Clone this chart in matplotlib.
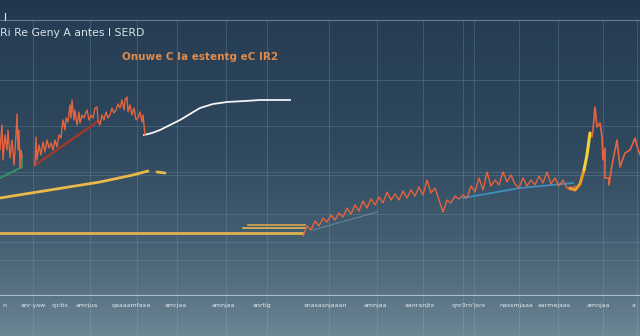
import numpy as np
import matplotlib
matplotlib.use("Agg")
import matplotlib.pyplot as plt
from matplotlib.colors import LinearSegmentedColormap

# ---- data (index level vs. trading day) ----
early_days_a = [0, 2, 3, 5, 7, 8, 10, 12, 14, 16, 17, 18, 19, 20, 21, 22]
early_level_a = [146, 171, 136, 161, 146, 166, 138, 156, 131, 161, 182, 146, 166, 128, 146, 139]

early_days_b = [35, 36, 37, 39, 41, 43, 45, 47, 49, 51, 53, 55, 57, 59, 61, 62, 63, 65, 66, 68,
                70, 71, 72, 74, 75, 77, 79, 80, 82, 84, 86, 87, 89, 91, 93, 95, 97, 98, 100, 102,
                104, 106, 108, 110, 112, 114, 116, 118, 120, 122, 124, 125, 127, 128, 130, 132,
                134, 136, 138, 140, 142, 143, 145]
early_level_b = [131, 159, 136, 151, 141, 154, 144, 156, 148, 153, 146, 156, 149, 161, 158, 168,
                 176, 166, 178, 174, 191, 178, 196, 176, 186, 171, 184, 173, 181, 178, 184, 186,
                 176, 181, 178, 188, 189, 176, 171, 181, 176, 184, 178, 181, 188, 183, 186, 192,
                 188, 196, 186, 196, 199, 184, 191, 181, 188, 176, 178, 184, 174, 181, 161]

green_days = [0, 22, 22]
green_level = [118, 129, 139]

red_trend_days = [35, 97]
red_trend_level = [131, 174]

white_days = [144, 152, 160, 170, 180, 190, 200, 213, 227, 245, 260, 275, 290]
white_level = [161, 163, 166, 171, 176, 182, 188, 192, 194, 195, 196, 196, 196]

yellow_rise_days = [0, 50, 100, 133, 148]
yellow_rise_level = [98, 106, 114, 121, 125]
yellow_dash_days = [157, 165]
yellow_dash_level = [124, 123]

flat_days = [0, 303]
flat_level = [63, 63]
flat_upper_days = [248, 305]
flat_upper_level = [71, 71]
flat_mid_days = [243, 305]
flat_mid_level = [68, 68]

late_days = list(range(303, 576, 4))
late_level = [60, 70, 66, 75, 70, 78, 74, 81, 76, 83,
              79, 88, 82, 91, 85, 95, 88, 97, 91, 99,
              93, 104, 96, 102, 96, 105, 98, 106, 100, 109,
              101, 116, 103, 108, 96, 84, 96, 93, 100, 97,
              101, 98, 110, 104, 118, 106, 124, 110, 116, 111,
              124, 114, 121, 112, 108, 118, 110, 116, 111, 120,
              113, 124, 112, 118, 110, 116, 108, 106, 110]

spike_low_days = [570, 575, 580, 584]
spike_low_level = [108, 106, 112, 126]
spike_high_days = [584, 587, 590]
spike_high_level = [126, 141, 163]

tail_days = [590, 592, 593, 595, 597, 600, 602, 603, 605, 605, 609, 609, 612, 615, 617, 620,
             625, 630, 635, 637, 640]
tail_level = [161, 159, 166, 189, 169, 173, 159, 136, 148, 118, 118, 111, 131, 146, 156, 129,
              143, 146, 158, 150, 141]

blue_days = [463, 520, 573]
blue_level = [98, 108, 113]
faint_days = [313, 377]
faint_level = [66, 84]

grid_days = [33, 90, 137, 177, 226, 267, 329, 377, 423, 463, 474, 519, 558, 603, 637]
grid_levels = [36, 54, 82, 121, 124, 170, 216]

tick_days = [4, 33, 60, 87, 131, 176, 223, 262, 325, 375, 420, 469, 516, 554, 598, 634]
tick_labels = ["n", "anr·yaw", "qictis", "amrjua", "qaaaamfaxa", "amrjaa", "amnjaa",
               "anrtlg", "xnasasnjaaan", "amnjaa", "aanranjtx", "qnr3rn'jsrx",
               "nassmjaaa", "aarmejaas", "amnjaa", "a"]

title_text = "Ri Re Geny A antes l SERD"
subtitle_text = "Onuwe C Ia estentg eC IR2"

# ---- figure ----
fig = plt.figure(figsize=(6.4, 3.36), dpi=100)

bg = fig.add_axes([0, 0, 1, 1])
bg_cmap = LinearSegmentedColormap.from_list(
    "bg", [(0.0, "#20354a"), (0.06, "#263d53"), (0.45, "#30495f"),
           (0.70, "#435d70"), (0.88, "#5a7486"), (1.0, "#6c8694")])
grad = np.linspace(0, 1, 336).reshape(-1, 1)
bg.imshow(grad, cmap=bg_cmap, aspect="auto", extent=[0, 1, 0, 1], origin="upper")
bg.set_axis_off()

ax = fig.add_axes([0, 40 / 336, 1, 276 / 336])
ax.set_facecolor("none")
ax.set_xlim(0, 640)
ax.set_ylim(0, 276)
for s in ax.spines.values():
    s.set_visible(False)

for d in grid_days:
    ax.axvline(d, color="#7f9cb0", lw=0.6, alpha=0.35, zorder=0)
    ax.plot([d, d], [-40, 0], color="#9ab2c0", lw=0.6, alpha=0.3, clip_on=False, zorder=0)
for lv in grid_levels:
    ax.axhline(lv, color="#7f9cb0", lw=0.7, alpha=0.3, zorder=0)

ax.axhline(276, color="#6d8ca2", lw=1.2, zorder=1)
ax.axhline(0, color="#a9bdc9", lw=1.6, zorder=1)
ax.plot([5, 5], [276, 283], color="#dfe8ee", lw=0.8, clip_on=False)

# trend and indicator lines
ax.plot(flat_days, flat_level, color="#e2b24e", lw=2.0, solid_capstyle="round", zorder=3)
ax.plot(flat_upper_days, flat_upper_level, color="#d8a64c", lw=1.2, zorder=3)
ax.plot(flat_mid_days, flat_mid_level, color="#e4b454", lw=1.2, zorder=3)
ax.plot(yellow_rise_days, yellow_rise_level, color="#e9b949", lw=2.0,
        solid_capstyle="round", zorder=3)
ax.plot(yellow_dash_days, yellow_dash_level, color="#e9b949", lw=2.0,
        solid_capstyle="round", zorder=3)
ax.plot(green_days, green_level, color="#2a9a6a", lw=1.3, zorder=3)
ax.plot(red_trend_days, red_trend_level, color="#9c3a2e", lw=1.8, zorder=3)
ax.plot(white_days, white_level, color="#f2f4f6", lw=1.3, zorder=4)
ax.plot(blue_days, blue_level, color="#3f8fc0", lw=1.3, zorder=3)
ax.plot(faint_days, faint_level, color="#7896aa", lw=0.8, alpha=0.7, zorder=3)

# price series
price_kw = dict(color="#e4643f", lw=1.0, zorder=5)
ax.plot(early_days_a, early_level_a, **price_kw)
ax.plot(early_days_b, early_level_b, **price_kw)
ax.plot(late_days, late_level, **price_kw)
ax.plot(tail_days, tail_level, color="#e4643f", lw=1.2, zorder=5)
ax.plot(spike_low_days, spike_low_level, color="#ec9a2c", lw=2.2,
        solid_capstyle="round", zorder=6)
ax.plot(spike_high_days, spike_high_level, color="#f0d23a", lw=2.2,
        solid_capstyle="round", zorder=6)

ax.set_xticks(tick_days)
ax.set_xticklabels(tick_labels, fontsize=4.5, color="#e2eaef")
ax.set_yticks([])
ax.tick_params(axis="x", length=0, pad=5)

ax.text(0, 263, title_text, fontsize=7.8, color="#d9e1e7", va="center", ha="left")
ax.text(122, 239, subtitle_text, fontsize=7.5, color="#e08a4c", va="center", ha="left",
        fontweight="bold")

fig.savefig("out.png", dpi=100)
